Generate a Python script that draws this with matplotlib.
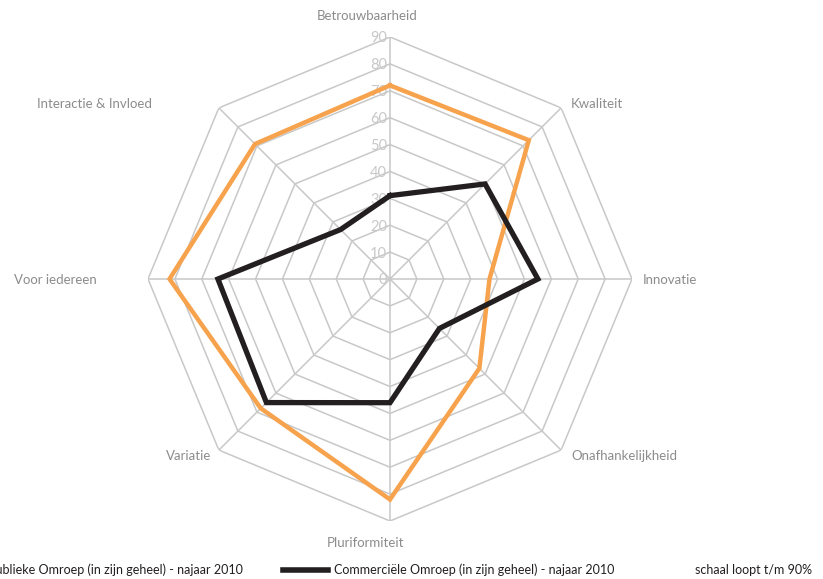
import numpy as np
import matplotlib
matplotlib.use("Agg")
import matplotlib.pyplot as plt
from matplotlib.lines import Line2D

# categories clockwise from the top
categories = ["Betrouwbaarheid", "Kwaliteit", "Innovatie", "Onafhankelijkheid",
              "Pluriformiteit", "Variatie", "Voor iedereen", "Interactie & Invloed"]
publiek = [72, 73, 37, 47, 82, 68, 82, 71]
commercieel = [31, 50, 55, 26, 46, 65, 64, 26]
rings = [10, 20, 30, 40, 50, 60, 70, 80, 90]
tick_labels = ["0", "10", "20", "30", "40", "50", "60", "70", "80", "90"]

label_names = ["Publieke Omroep (in zijn geheel) - najaar 2010",
               "Commerciële Omroep (in zijn geheel) - najaar 2010"]
note = "schaal loopt t/m 90%"

orange = "#f7a24c"
black = "#231f20"
grid_c = "#c8c8c8"
text_c = "#8c8c8c"
fam = ["Lato", "DejaVu Sans"]

W, H = 823, 579
fig = plt.figure(figsize=(W / 100, H / 100), dpi=100)

# polar axes centred at (390, 279) px with radius 242 px
cx, cy, R = 390, 279, 242
ax = fig.add_axes([(cx - R) / W, (H - cy - R) / H, 2 * R / W, 2 * R / H], projection="polar")
ax.set_theta_offset(np.pi / 2)
ax.set_theta_direction(-1)
ax.set_ylim(0, 90)
ax.grid(False)
ax.spines["polar"].set_visible(False)
ax.set_xticks([])
ax.set_yticks([])
ax.patch.set_alpha(0)

n = len(categories)
angles = np.linspace(0, 2 * np.pi, n, endpoint=False)
closed = np.concatenate([angles, angles[:1]])

# octagonal grid
for r in rings:
    ax.plot(closed, [r] * (n + 1), color=grid_c, lw=1.1, zorder=1)
for a in angles:
    ax.plot([a, a], [0, 90], color=grid_c, lw=1.1, zorder=1)

# scale labels along the top axis
for i, t in enumerate(tick_labels):
    ax.annotate(t, xy=(0, i * 10), xytext=(-2, -1), textcoords="offset points",
                ha="right", va="center", color=grid_c, fontsize=10.5, family=fam)

ax.plot(closed, publiek + publiek[:1], color=orange, lw=3.2, zorder=3,
        solid_joinstyle="miter")
ax.plot(closed, commercieel + commercieel[:1], color=black, lw=3.8, zorder=4,
        solid_joinstyle="miter")

# category labels (pixel positions as in the original)
lab_pos = [(367, 16, "center"), (571, 104, "left"), (643, 280, "left"),
           (571, 456, "left"), (366, 543, "center"), (211, 456, "right"),
           (97, 280, "right"), (152, 104, "right")]
for name, (x, y, ha) in zip(categories, lab_pos):
    fig.text(x / W, 1 - y / H, name, ha=ha, va="center", color=text_c,
             fontsize=9.5, family=fam)

# legend row
ly = 1 - 570 / H
fig.add_artist(Line2D([-50 / W, -5 / W], [ly, ly], color=orange, lw=4))
fig.text(243 / W, ly, label_names[0], ha="right", va="center", color=black,
         fontsize=9, family=fam)
fig.add_artist(Line2D([283 / W, 328 / W], [ly, ly], color=black, lw=4))
fig.text(334 / W, ly, label_names[1], ha="left", va="center", color=black,
         fontsize=9, family=fam)
fig.text(812 / W, ly, note, ha="right", va="center", color=black,
         fontsize=9, family=fam)

fig.savefig("out.png", dpi=100)
